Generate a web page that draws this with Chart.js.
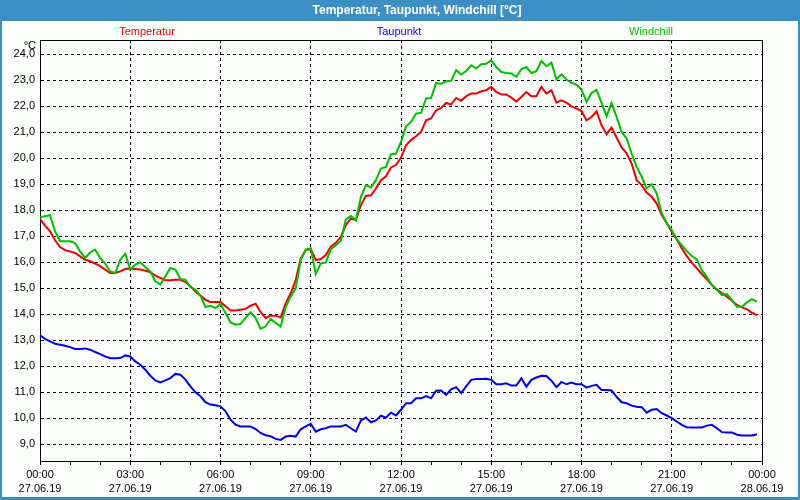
<!DOCTYPE html>
<html>
<head>
<meta charset="utf-8">
<script src="https://cdn.jsdelivr.net/npm/chart.js@4.4.1/dist/chart.umd.min.js"></script>
<style>
  body { margin: 0; background: #fff; }
  canvas { display: block; }
</style>
</head>
<body>
<canvas id="myChart" width="800" height="500"></canvas>
<script>
// Messwerte alle 10 Minuten (00:00 bis 23:50)
const seriesNames = ["Temperatur", "Taupunkt", "Windchill"];
const seriesColors = ["#f00000", "#0000f0", "#00c000"];

const temperatur = [
  17.67, 17.41, 17.19, 16.85, 16.59, 16.47,
  16.42, 16.36, 16.23, 16.10, 16.04, 15.95,
  15.85, 15.72, 15.59, 15.59, 15.65, 15.74,
  15.76, 15.74, 15.72, 15.68, 15.62, 15.49,
  15.40, 15.31, 15.31, 15.33, 15.33, 15.24,
  15.08, 14.88, 14.72, 14.56, 14.47, 14.47,
  14.47, 14.31, 14.15, 14.15, 14.18, 14.21,
  14.33, 14.41, 14.08, 13.86, 13.95, 13.95,
  13.88, 14.42, 14.81, 15.32, 16.15, 16.47,
  16.51, 16.09, 16.13, 16.28, 16.60, 16.75,
  16.98, 17.43, 17.69, 17.62, 18.20, 18.55,
  18.58, 18.84, 19.16, 19.31, 19.65, 19.74,
  20.03, 20.50, 20.70, 20.85, 21.02, 21.46,
  21.53, 21.85, 21.94, 22.13, 22.07, 22.32,
  22.21, 22.39, 22.49, 22.49, 22.58, 22.62,
  22.75, 22.55, 22.45, 22.45, 22.34, 22.19,
  22.36, 22.55, 22.39, 22.39, 22.75, 22.49,
  22.62, 22.14, 22.23, 22.14, 22.00, 21.91,
  21.82, 21.46, 21.59, 21.81, 21.27, 20.93,
  21.18, 20.80, 20.42, 20.19, 19.80, 19.16,
  18.97, 18.68, 18.52, 18.26, 17.82, 17.50,
  17.18, 16.88, 16.54, 16.24, 15.99, 15.77,
  15.55, 15.35, 15.13, 14.96, 14.81, 14.68,
  14.52, 14.36, 14.27, 14.19, 14.06, 13.97
];

const taupunkt = [
  13.19, 13.06, 12.96, 12.87, 12.83, 12.79,
  12.74, 12.67, 12.67, 12.69, 12.64, 12.55,
  12.47, 12.38, 12.31, 12.31, 12.32, 12.42,
  12.38, 12.19, 12.06, 11.87, 11.64, 11.46,
  11.38, 11.46, 11.55, 11.71, 11.68, 11.49,
  11.23, 11.00, 10.85, 10.62, 10.53, 10.50,
  10.46, 10.27, 9.95, 9.76, 9.69, 9.69,
  9.69, 9.59, 9.44, 9.35, 9.31, 9.21,
  9.17, 9.30, 9.33, 9.30, 9.58, 9.69,
  9.79, 9.49, 9.58, 9.62, 9.69, 9.69,
  9.69, 9.75, 9.62, 9.49, 9.92, 10.03,
  9.85, 9.92, 10.10, 10.03, 10.22, 10.11,
  10.33, 10.58, 10.58, 10.77, 10.77, 10.86,
  10.77, 11.06, 11.07, 10.90, 11.12, 11.20,
  10.97, 11.23, 11.48, 11.51, 11.51, 11.52,
  11.48, 11.31, 11.31, 11.35, 11.26, 11.26,
  11.54, 11.22, 11.48, 11.57, 11.64, 11.63,
  11.45, 11.20, 11.40, 11.31, 11.38, 11.31,
  11.31, 11.18, 11.25, 11.29, 11.09, 11.09,
  11.07, 10.83, 10.62, 10.58, 10.49, 10.45,
  10.43, 10.22, 10.33, 10.36, 10.20, 10.11,
  10.01, 9.88, 9.75, 9.66, 9.65, 9.65,
  9.65, 9.72, 9.75, 9.62, 9.47, 9.46,
  9.46, 9.37, 9.34, 9.34, 9.34, 9.39
];

const windchill = [
  17.73, 17.77, 17.81, 17.19, 16.81, 16.81,
  16.81, 16.74, 16.42, 16.17, 16.38, 16.49,
  16.17, 15.95, 15.65, 15.59, 16.10, 16.33,
  15.72, 15.91, 16.00, 15.82, 15.65, 15.27,
  15.14, 15.46, 15.78, 15.72, 15.36, 15.33,
  15.04, 14.95, 14.72, 14.28, 14.33, 14.24,
  14.40, 14.05, 13.69, 13.60, 13.63, 13.86,
  14.08, 13.86, 13.44, 13.54, 13.82, 13.67,
  13.53, 14.29, 14.68, 15.00, 16.09, 16.50,
  16.54, 15.55, 15.96, 15.99, 16.50, 16.66,
  16.83, 17.65, 17.78, 17.62, 18.52, 18.97,
  18.88, 19.16, 19.61, 19.67, 20.16, 20.18,
  20.63, 21.23, 21.40, 21.72, 21.75, 22.30,
  22.32, 22.90, 22.87, 22.96, 22.98, 23.39,
  23.22, 23.36, 23.58, 23.45, 23.62, 23.64,
  23.77, 23.51, 23.32, 23.28, 23.26, 23.13,
  23.43, 23.51, 23.28, 23.35, 23.74, 23.54,
  23.68, 23.04, 23.23, 23.03, 22.90, 22.83,
  22.64, 22.17, 22.51, 22.64, 22.13, 21.62,
  22.13, 21.59, 21.02, 20.76, 20.18, 19.67,
  19.29, 18.84, 19.00, 18.65, 17.88, 17.50,
  17.24, 16.88, 16.66, 16.43, 16.24, 16.11,
  15.70, 15.44, 15.12, 14.94, 14.74, 14.78,
  14.55, 14.29, 14.29, 14.46, 14.58, 14.49
];

// Achsenbeschriftung
const yTicks = [9, 10, 11, 12, 13, 14, 15, 16, 17, 18, 19, 20, 21, 22, 23, 24];
const xTickHours = [0, 1, 2, 3, 4, 5, 6, 7, 8, 9, 10, 11, 12, 13, 14, 15, 16, 17, 18, 19, 20, 21, 22, 23, 24];
const xTimeLabels = ["00:00", "03:00", "06:00", "09:00", "12:00", "15:00", "18:00", "21:00", "00:00"];
const xDateLabels = ["27.06.19", "27.06.19", "27.06.19", "27.06.19", "27.06.19", "27.06.19", "27.06.19", "27.06.19", "28.06.19"];

const frameBlue = "#3c8fc5";
const fontName = "'Liberation Sans', Arial, sans-serif";

// x in Stunden (10-Minuten-Raster)
const toPoints = (arr) => arr.map((v, i) => ({ x: i / 6, y: v }));

// Rahmen, Titelleiste, Legende und Einheit
const framePlugin = {
  id: "frame",
  beforeDraw(chart) {
    const c = chart.ctx;
    const w = chart.width, h = chart.height;
    c.save();
    c.fillStyle = "#fcfefc";
    c.fillRect(0, 0, w, h);
    c.fillStyle = frameBlue;
    c.fillRect(0, 0, w, 21);
    c.fillRect(0, 0, 2, h);
    c.fillRect(w - 2, 0, 2, h);
    c.fillRect(0, h - 3, w, 3);
    c.fillStyle = "#ffffff";
    c.font = "bold 12px " + fontName;
    c.textAlign = "center";
    c.textBaseline = "middle";
    c.fillText("Temperatur, Taupunkt, Windchill [°C]", 417, 11);
    c.font = "11px " + fontName;
    seriesNames.forEach((name, i) => {
      c.fillStyle = seriesColors[i];
      c.fillText(name, 399 + (i - 1) * 252, 32);
    });
    c.fillStyle = "#000";
    c.textAlign = "right";
    c.fillText("°C", 36, 46);
    c.restore();
  },
  beforeDatasetsDraw(chart) {
    const a = chart.chartArea;
    const c = chart.ctx;
    c.save();
    c.strokeStyle = "#000";
    c.lineWidth = 1;
    c.strokeRect(a.left + 0.5, a.top + 0.5, a.right - a.left, a.bottom - a.top);
    c.restore();
  }
};

const ctx = document.getElementById("myChart");
new Chart(ctx, {
  type: "line",
  data: {
    datasets: [
      { label: seriesNames[2], data: toPoints(windchill), borderColor: seriesColors[2] },
      { label: seriesNames[0], data: toPoints(temperatur), borderColor: seriesColors[0] },
      { label: seriesNames[1], data: toPoints(taupunkt), borderColor: seriesColors[1] },
    ],
  },
  options: {
    responsive: false,
    animation: false,
    devicePixelRatio: 1,
    layout: { padding: { top: 40, right: 38, left: 0, bottom: 0 } },
    elements: {
      line: { borderWidth: 2, tension: 0 },
      point: { radius: 0 },
    },
    plugins: {
      legend: { display: false },
      title: { display: false },
      tooltip: { enabled: false },
    },
    scales: {
      x: {
        type: "linear",
        min: 0,
        max: 24,
        afterBuildTicks: (s) => { s.ticks = xTickHours.map((v) => ({ value: v })); },
        afterFit: (s) => { s.height = 39; },
        grid: {
          color: (c) => (c.tick && c.tick.value % 3 === 0 && c.tick.value % 24 !== 0 ? "#000" : "rgba(0,0,0,0)"),
          tickColor: "#000",
          tickLength: 4,
          lineWidth: 1,
        },
        border: { display: true, color: "#000", dash: [3, 3] },
        ticks: {
          autoSkip: false,
          maxRotation: 0,
          padding: 3,
          color: "#000",
          font: { family: fontName, size: 11, lineHeight: "14px" },
          callback: (v) => (v % 3 === 0 ? [xTimeLabels[v / 3], xDateLabels[v / 3]] : ""),
        },
      },
      y: {
        min: 8.36,
        max: 24.55,
        afterBuildTicks: (s) => { s.ticks = yTicks.map((v) => ({ value: v })); },
        afterFit: (s) => { s.width = 40; },
        grid: { color: "#000", drawTicks: false, lineWidth: 1 },
        border: { display: true, color: "#000", dash: [3, 3] },
        ticks: {
          padding: 5,
          color: "#000",
          font: { family: fontName, size: 11 },
          callback: (v) => v.toFixed(1).replace(".", ","),
        },
      },
    },
  },
  plugins: [framePlugin],
});
</script>
</body>
</html>
